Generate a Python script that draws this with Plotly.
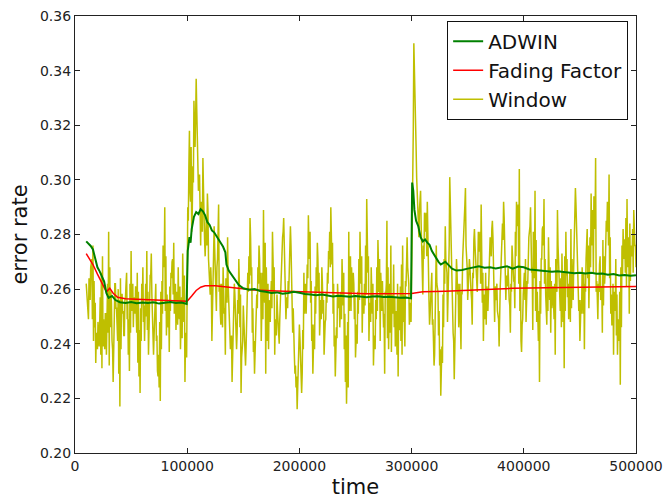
import plotly.graph_objects as go

# ---------------- data ----------------
# Window error rate at even thousands (10000, 12000, ..., 500000)
window_even = [
    0.262, 0.249, 0.268, 0.276, 0.255, 0.238, 0.247, 0.231, 0.244, 0.236,
    0.281, 0.259, 0.226, 0.262, 0.241, 0.217, 0.258, 0.243, 0.266, 0.249,
    0.274, 0.246, 0.261, 0.233, 0.222, 0.255, 0.241, 0.274, 0.248, 0.273,
    0.236, 0.262, 0.228, 0.219, 0.251, 0.290, 0.258, 0.237, 0.264, 0.277,
    0.245, 0.268, 0.238, 0.273, 0.226,
    0.262, 0.318, 0.281, 0.329, 0.337, 0.296, 0.276, 0.308, 0.272, 0.295,
    0.262, 0.241, 0.283, 0.252, 0.291, 0.247, 0.268, 0.236, 0.279, 0.248,
    0.226, 0.262, 0.238, 0.271, 0.222, 0.254, 0.232, 0.266, 0.286, 0.244,
    0.229, 0.258, 0.276, 0.241, 0.289, 0.229, 0.262, 0.248, 0.281, 0.236,
    0.258, 0.240, 0.271, 0.286, 0.249, 0.263, 0.283, 0.244, 0.229, 0.216,
    0.247, 0.222, 0.266, 0.251, 0.287, 0.255, 0.229, 0.261, 0.277, 0.243,
    0.268, 0.236, 0.259, 0.274, 0.290, 0.251, 0.228, 0.262, 0.246, 0.271,
    0.238, 0.218, 0.281, 0.252, 0.266, 0.235, 0.259, 0.281, 0.244, 0.262,
    0.293, 0.241,
    0.268, 0.232, 0.256, 0.278, 0.241, 0.263, 0.229, 0.285, 0.252, 0.237,
    0.269, 0.244, 0.228, 0.261, 0.276, 0.239, 0.279, 0.247, 0.262, 0.350,
    0.312, 0.281, 0.296, 0.258, 0.284, 0.292, 0.247, 0.266, 0.232, 0.276,
    0.243, 0.221, 0.258, 0.283, 0.248, 0.301, 0.262, 0.227, 0.271,
    0.246, 0.238, 0.279, 0.297, 0.256, 0.268, 0.247, 0.282, 0.259, 0.274,
    0.291, 0.241, 0.266, 0.252, 0.279, 0.285, 0.248, 0.262, 0.239, 0.275,
    0.292, 0.256, 0.268, 0.244, 0.271, 0.253, 0.283, 0.304, 0.237, 0.262,
    0.248, 0.276, 0.290, 0.245, 0.296, 0.259, 0.226, 0.271, 0.293, 0.252,
    0.279, 0.244, 0.261, 0.236, 0.289, 0.257, 0.273, 0.231, 0.265, 0.249,
    0.282, 0.256, 0.297, 0.262, 0.241, 0.268, 0.238, 0.276, 0.253, 0.295,
    0.266, 0.308, 0.249, 0.272, 0.244, 0.262, 0.281, 0.302, 0.258, 0.236,
    0.271, 0.249, 0.225, 0.265, 0.278, 0.293, 0.251, 0.274, 0.289, 0.268,
]
# Window error rate at odd thousands (11000, 13000, ..., 499000)
window_odd = [
    0.255, 0.259, 0.271, 0.263, 0.244, 0.242, 0.236, 0.239, 0.251, 0.262,
    0.268, 0.241, 0.249, 0.253, 0.229, 0.238, 0.252, 0.257, 0.255, 0.262,
    0.258, 0.252, 0.244, 0.228, 0.241, 0.248, 0.262, 0.259, 0.265, 0.251,
    0.248, 0.243, 0.224, 0.238, 0.268, 0.272, 0.246, 0.252, 0.271, 0.259,
    0.256, 0.249, 0.257, 0.248, 0.244,
    0.285, 0.292, 0.305, 0.312, 0.318, 0.302, 0.289, 0.281, 0.286, 0.271,
    0.268, 0.259, 0.266, 0.271, 0.262, 0.255, 0.251, 0.262, 0.257, 0.241,
    0.247, 0.253, 0.256, 0.246, 0.238, 0.245, 0.251, 0.272, 0.265, 0.237,
    0.244, 0.268, 0.259, 0.266, 0.255, 0.246, 0.256, 0.263, 0.259, 0.248,
    0.249, 0.256, 0.279, 0.268, 0.257, 0.272, 0.263, 0.238, 0.224, 0.233,
    0.236, 0.245, 0.259, 0.269, 0.271, 0.241, 0.247, 0.268, 0.259, 0.256,
    0.251, 0.248, 0.266, 0.281, 0.269, 0.239, 0.246, 0.253, 0.259, 0.254,
    0.226, 0.248, 0.266, 0.259, 0.249, 0.247, 0.271, 0.262, 0.253, 0.276,
    0.266, 0.255,
    0.251, 0.243, 0.268, 0.259, 0.252, 0.246, 0.258, 0.268, 0.244, 0.252,
    0.257, 0.236, 0.245, 0.269, 0.258, 0.261, 0.263, 0.255, 0.300, 0.331,
    0.296, 0.289, 0.277, 0.271, 0.288, 0.268, 0.257, 0.249, 0.254, 0.259,
    0.232, 0.239, 0.271, 0.266, 0.276, 0.281, 0.244, 0.249, 0.258,
    0.262, 0.258, 0.286, 0.271, 0.263, 0.259, 0.264, 0.271, 0.268, 0.281,
    0.255, 0.258, 0.261, 0.266, 0.272, 0.266, 0.256, 0.249, 0.261, 0.284,
    0.271, 0.262, 0.256, 0.259, 0.263, 0.272, 0.291, 0.268, 0.249, 0.256,
    0.263, 0.281, 0.266, 0.272, 0.278, 0.241, 0.251, 0.283, 0.271, 0.266,
    0.256, 0.253, 0.249, 0.268, 0.271, 0.264, 0.248, 0.252, 0.257, 0.266,
    0.271, 0.279, 0.281, 0.252, 0.256, 0.251, 0.259, 0.264, 0.279, 0.282,
    0.287, 0.263, 0.259, 0.257, 0.254, 0.272, 0.291, 0.279, 0.247, 0.255,
    0.258, 0.241, 0.246, 0.271, 0.286, 0.268, 0.263, 0.282, 0.276,
]
# Window error rate at half thousands (10500, 11500, ..., 499500)
window_half = [
    0.258, 0.252, 0.264, 0.256, 0.270, 0.249, 0.241, 0.246, 0.233, 0.240,
    0.248, 0.239, 0.257, 0.266, 0.272, 0.249, 0.238, 0.251, 0.259, 0.244,
    0.232, 0.246, 0.255, 0.238, 0.249, 0.262, 0.253, 0.247, 0.260, 0.256,
    0.264, 0.258, 0.251, 0.243, 0.256, 0.262, 0.249, 0.236, 0.230, 0.244,
    0.252, 0.262, 0.257, 0.251, 0.248, 0.266, 0.259, 0.245, 0.253, 0.262,
    0.268, 0.254, 0.261, 0.250, 0.245, 0.236, 0.251, 0.265, 0.258, 0.247,
    0.243, 0.255, 0.241, 0.230, 0.236, 0.248, 0.259, 0.263, 0.276, 0.268,
    0.252, 0.243, 0.246, 0.255, 0.261, 0.266, 0.270, 0.258, 0.251, 0.262,
    0.259, 0.247, 0.253, 0.261, 0.248, 0.242, 0.259, 0.265, 0.242, 0.235,
    0.290, 0.305, 0.296, 0.312, 0.288, 0.299, 0.318, 0.322, 0.326, 0.309,
    0.298, 0.286, 0.292, 0.281, 0.297, 0.278, 0.283, 0.276, 0.289, 0.266,
    0.258, 0.262, 0.249, 0.271, 0.275, 0.263, 0.268, 0.281, 0.259, 0.251,
    0.262, 0.246, 0.258, 0.253, 0.264, 0.255, 0.262, 0.249, 0.238, 0.243,
    0.236, 0.252, 0.258, 0.247, 0.244, 0.251, 0.262, 0.258, 0.235, 0.241,
    0.248, 0.243, 0.239, 0.256, 0.259, 0.262, 0.279, 0.268, 0.253, 0.241,
    0.238, 0.249, 0.253, 0.262, 0.271, 0.266, 0.252, 0.249, 0.262, 0.277,
    0.268, 0.241, 0.238, 0.251, 0.257, 0.253, 0.271, 0.268, 0.249, 0.243,
    0.252, 0.247, 0.249, 0.262, 0.275, 0.281, 0.277, 0.262, 0.255, 0.253,
    0.259, 0.268, 0.276, 0.262, 0.253, 0.236, 0.232, 0.228, 0.225, 0.238,
    0.242, 0.233, 0.229, 0.238, 0.251, 0.262, 0.258, 0.264, 0.276, 0.281,
    0.263, 0.247, 0.242, 0.238, 0.251, 0.259, 0.271, 0.266, 0.254, 0.249,
    0.262, 0.256, 0.245, 0.249, 0.255, 0.262, 0.271, 0.268, 0.283, 0.277,
    0.262, 0.243, 0.239, 0.242, 0.256, 0.258, 0.252, 0.249, 0.261, 0.266,
    0.251, 0.243, 0.232, 0.224, 0.252, 0.272, 0.268, 0.259, 0.262, 0.257,
    0.245, 0.240, 0.251, 0.256, 0.268, 0.272, 0.258, 0.251, 0.254, 0.258,
    0.281, 0.272, 0.253, 0.248,
    0.259, 0.262, 0.241, 0.238, 0.249, 0.252, 0.262, 0.271, 0.266, 0.252,
    0.247, 0.251, 0.259, 0.262, 0.242, 0.238, 0.262, 0.276, 0.258, 0.251,
    0.246, 0.239, 0.252, 0.262, 0.257, 0.249, 0.241, 0.236, 0.248, 0.252,
    0.263, 0.269, 0.268, 0.262, 0.251, 0.248, 0.278, 0.318, 0.336, 0.318,
    0.301, 0.289, 0.279, 0.292, 0.284, 0.271, 0.276, 0.288, 0.281, 0.272,
    0.268, 0.256, 0.251, 0.262, 0.247, 0.241, 0.236, 0.249, 0.262, 0.259,
    0.252, 0.238, 0.229, 0.233, 0.246, 0.262, 0.271, 0.266, 0.258, 0.276,
    0.289, 0.279, 0.252, 0.241, 0.238, 0.256, 0.266, 0.262,
    0.252, 0.248, 0.259, 0.271, 0.282, 0.291, 0.276, 0.268, 0.262, 0.271,
    0.259, 0.256, 0.266, 0.278, 0.276, 0.268, 0.259, 0.281, 0.274, 0.262,
    0.271, 0.266, 0.256, 0.249, 0.247, 0.258, 0.262, 0.271, 0.276, 0.282,
    0.279, 0.268, 0.261, 0.258, 0.252, 0.249, 0.256, 0.266, 0.273, 0.278,
    0.286, 0.272, 0.265, 0.261, 0.259, 0.254, 0.262, 0.276, 0.268, 0.263,
    0.281, 0.292, 0.286, 0.262, 0.252, 0.241, 0.247, 0.258, 0.266, 0.271,
    0.258, 0.262, 0.279, 0.283, 0.276, 0.268, 0.281, 0.264, 0.252, 0.248,
    0.241, 0.252, 0.263, 0.271, 0.282, 0.276, 0.262, 0.258, 0.247, 0.252,
    0.261, 0.268, 0.263, 0.256, 0.249, 0.262, 0.271, 0.259, 0.276, 0.266,
    0.252, 0.246, 0.258, 0.266, 0.272, 0.281, 0.271, 0.262, 0.258, 0.248,
    0.253, 0.261, 0.269, 0.283, 0.291, 0.276, 0.262, 0.256, 0.248, 0.251,
    0.258, 0.266, 0.262, 0.271, 0.282, 0.276, 0.261, 0.268, 0.276, 0.289,
    0.294, 0.282, 0.259, 0.257, 0.262, 0.269, 0.256, 0.261, 0.278, 0.272,
    0.266, 0.285, 0.292, 0.276, 0.264, 0.251, 0.247, 0.262, 0.259, 0.252,
    0.243, 0.236, 0.241, 0.259, 0.268, 0.276, 0.282, 0.278, 0.266, 0.261,
    0.271, 0.279, 0.284, 0.276, 0.272, 0.266, 0.281, 0.276,
]
window_time_even = list(range(10000, 500001, 2000))
window_time_odd = list(range(11000, 499001, 2000))
window_time_half = list(range(10500, 499501, 1000))
assert len(window_even) == len(window_time_even)
assert len(window_odd) == len(window_time_odd)
assert len(window_half) == len(window_time_half)

# merge the three sample lists in time order
window_pairs = sorted(list(zip(window_time_even, window_even))
                      + list(zip(window_time_odd, window_odd))
                      + list(zip(window_time_half, window_half)))
window_time = [p[0] for p in window_pairs]
window_vals = [p[1] for p in window_pairs]

adwin_time = [
    10000, 12000, 14000, 16000, 18000, 20000, 22000, 24000, 26000, 28000,
    30000, 33000, 36000, 40000, 45000, 50000, 55000, 60000, 65000, 70000,
    75000, 80000, 85000, 90000, 95000, 99500, 100500, 102000, 103000, 104000,
    106000, 108000, 110000, 112000, 114000, 116000, 118000, 120000, 122000, 124000,
    126000, 128000, 130000, 132000, 134000, 135000, 137000, 140000, 143000, 146000,
    150000, 155000, 160000, 165000, 170000, 175000, 180000, 185000, 190000, 195000,
    200000, 205000, 210000, 215000, 220000, 225000, 230000, 235000, 240000, 245000,
    250000, 255000, 260000, 265000, 270000, 275000, 280000, 285000, 290000, 295000,
    299500, 300500, 301500, 302500, 304000, 306000, 308000, 310000, 312000, 314000,
    316000, 318000, 320000, 322000, 324000, 326000, 328000, 330000, 333000, 336000,
    340000, 345000, 350000, 355000, 360000, 365000, 370000, 375000, 380000, 385000,
    390000, 395000, 400000, 405000, 410000, 415000, 420000, 425000, 430000, 435000,
    440000, 445000, 450000, 455000, 460000, 465000, 470000, 475000, 480000, 485000,
    490000, 495000, 500000]
adwin_vals = [
    0.2775, 0.2768, 0.2758, 0.2745, 0.2710, 0.2680, 0.2665, 0.2648, 0.2628, 0.2585,
    0.2568, 0.2575, 0.2560, 0.2552, 0.2549, 0.2553, 0.2548, 0.2551, 0.2549, 0.2552,
    0.2547, 0.2550, 0.2553, 0.2549, 0.2551, 0.2546, 0.2740, 0.2790, 0.2770, 0.2820,
    0.2865, 0.2882, 0.2875, 0.2893, 0.2885, 0.2870, 0.2845, 0.2835, 0.2815, 0.2808,
    0.2795, 0.2782, 0.2770, 0.2755, 0.2735, 0.2690, 0.2668, 0.2650, 0.2630, 0.2615,
    0.2603, 0.2598, 0.2600, 0.2593, 0.2590, 0.2586, 0.2588, 0.2583, 0.2586, 0.2590,
    0.2587, 0.2582, 0.2580, 0.2578, 0.2580, 0.2576, 0.2573, 0.2576, 0.2574, 0.2572,
    0.2575, 0.2573, 0.2570, 0.2573, 0.2574, 0.2571, 0.2572, 0.2570, 0.2568, 0.2569,
    0.2566, 0.2990, 0.2960, 0.2890, 0.2850, 0.2830, 0.2790, 0.2775, 0.2782, 0.2770,
    0.2762, 0.2740, 0.2725, 0.2710, 0.2700, 0.2690, 0.2695, 0.2700, 0.2688, 0.2675,
    0.2668, 0.2670, 0.2675, 0.2680, 0.2684, 0.2678, 0.2680, 0.2676, 0.2680, 0.2684,
    0.2675, 0.2683, 0.2680, 0.2672, 0.2670, 0.2668, 0.2667, 0.2664, 0.2665, 0.2662,
    0.2660, 0.2658, 0.2660, 0.2657, 0.2660, 0.2656, 0.2657, 0.2653, 0.2655, 0.2650,
    0.2652, 0.2649, 0.2651]

fading_time = [10000, 13000, 16000, 20000, 24000, 28000, 31000, 34000, 38000, 45000,
               60000, 80000, 100000, 104000, 108000, 112000, 116000, 125000, 135000,
               145000, 160000, 180000, 200000, 230000, 260000, 300000, 310000, 330000,
               360000, 390000, 420000, 450000, 480000, 500000]
fading_vals = [0.2730, 0.2710, 0.2690, 0.2655, 0.2620, 0.2590, 0.2603, 0.2585, 0.2570,
               0.2565, 0.2562, 0.2560, 0.2556, 0.2575, 0.2595, 0.2607, 0.2612, 0.2612,
               0.2608, 0.2602, 0.2597, 0.2593, 0.2590, 0.2585, 0.2583, 0.2584, 0.2590,
               0.2592, 0.2597, 0.2603, 0.2605, 0.2606, 0.2608, 0.2610]

x_ticks = [0, 100000, 200000, 300000, 400000, 500000]
y_ticks = [0.20, 0.22, 0.24, 0.26, 0.28, 0.30, 0.32, 0.34, 0.36]

# ---------------- figure ----------------
fig = go.Figure()
fig.add_trace(go.Scatter(x=window_time, y=window_vals, mode="lines", name="Window",
                         line=dict(color="#bfbf00", width=1.5), legendrank=3))
fig.add_trace(go.Scatter(x=fading_time, y=fading_vals, mode="lines", name="Fading Factor",
                         line=dict(color="#ff0000", width=1.5), legendrank=2))
fig.add_trace(go.Scatter(x=adwin_time, y=adwin_vals, mode="lines", name="ADWIN",
                         line=dict(color="#008000", width=2), legendrank=1))

axis_common = dict(showgrid=False, zeroline=False, showline=True, linecolor="#222222",
                   linewidth=1.2, mirror="ticks", ticks="inside", ticklen=5,
                   tickcolor="#222222", tickwidth=1, automargin=False,
                   tickfont=dict(family="DejaVu Sans", size=14, color="#222222"))

fig.update_layout(
    width=665, height=499,
    margin=dict(l=75, r=29, t=16, b=46),
    paper_bgcolor="white", plot_bgcolor="white",
    font=dict(family="DejaVu Sans", color="#111111"),
    xaxis=dict(range=[0, 500000], tickvals=x_ticks, ticktext=[str(v) for v in x_ticks],
               title=dict(text="time", font=dict(size=21), standoff=10), **axis_common),
    yaxis=dict(range=[0.20, 0.36], tickvals=y_ticks, ticktext=[f"{v:.2f}" for v in y_ticks],
               title=dict(text="error rate", font=dict(size=21), standoff=6), **axis_common),
    legend=dict(x=0.986, y=0.989, xanchor="right", yanchor="top",
                bgcolor="white", bordercolor="#111111", borderwidth=1,
                font=dict(family="DejaVu Sans", size=20, color="#111111"),
                traceorder="normal", itemwidth=30),
    showlegend=True,
)

fig.write_html("out.html")
